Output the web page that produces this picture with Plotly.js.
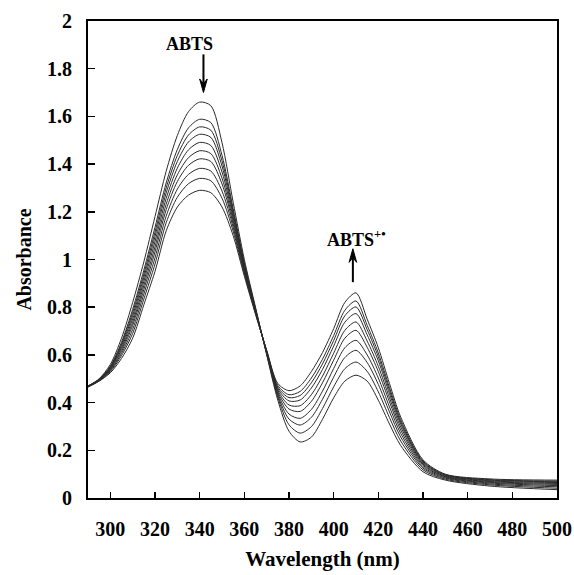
<!DOCTYPE html>
<html>
<head>
<meta charset="utf-8">
<script src="https://cdn.plot.ly/plotly-3.0.1.min.js"></script>
<style>html,body{margin:0;padding:0;background:#fff;}#chart{width:574px;height:575px;}</style>
</head>
<body>
<div id="chart"></div>
<script>
// Wavelength grid (nm)
const wavelength = [290,295,300,305,310,315,320,325,330,335,340,345,350,355,360,365,370,375,380,385,390,395,400,405,410,415,420,425,430,440,450,470,500];

// Absorbance spectra, one per scan (ABTS decreasing, ABTS radical cation increasing)
const scan1  = [0.470,0.500,0.560,0.670,0.820,0.990,1.180,1.370,1.520,1.620,1.660,1.645,1.490,1.240,1.000,0.800,0.600,0.410,0.280,0.235,0.255,0.330,0.420,0.490,0.515,0.490,0.410,0.310,0.220,0.110,0.075,0.050,0.035];
const scan2  = [0.469,0.498,0.553,0.653,0.791,0.955,1.135,1.321,1.461,1.552,1.588,1.574,1.437,1.213,0.986,0.794,0.604,0.422,0.307,0.272,0.299,0.375,0.466,0.542,0.570,0.531,0.445,0.337,0.239,0.118,0.079,0.055,0.041];
const scan3  = [0.469,0.497,0.550,0.646,0.778,0.939,1.115,1.300,1.436,1.522,1.556,1.542,1.414,1.201,0.980,0.792,0.606,0.430,0.331,0.306,0.338,0.414,0.507,0.589,0.619,0.568,0.476,0.361,0.256,0.125,0.083,0.059,0.047];
const scan4  = [0.468,0.496,0.547,0.639,0.765,0.924,1.096,1.279,1.411,1.493,1.525,1.512,1.392,1.189,0.975,0.789,0.608,0.438,0.352,0.334,0.371,0.448,0.543,0.630,0.661,0.600,0.503,0.382,0.271,0.131,0.086,0.063,0.052];
const scan5  = [0.468,0.495,0.544,0.631,0.751,0.908,1.075,1.256,1.383,1.460,1.491,1.478,1.367,1.176,0.968,0.786,0.610,0.445,0.373,0.363,0.405,0.483,0.578,0.670,0.703,0.632,0.530,0.403,0.285,0.137,0.089,0.066,0.057];
const scan6  = [0.467,0.494,0.541,0.623,0.737,0.891,1.053,1.232,1.355,1.427,1.456,1.444,1.341,1.163,0.961,0.783,0.612,0.452,0.390,0.387,0.433,0.511,0.607,0.703,0.738,0.658,0.552,0.420,0.298,0.142,0.091,0.069,0.061];
const scan7  = [0.467,0.494,0.538,0.615,0.724,0.874,1.032,1.209,1.327,1.395,1.422,1.411,1.317,1.150,0.955,0.781,0.614,0.459,0.407,0.411,0.461,0.539,0.637,0.737,0.773,0.684,0.575,0.437,0.310,0.147,0.094,0.072,0.065];
const scan8  = [0.466,0.493,0.534,0.606,0.707,0.855,1.007,1.182,1.295,1.357,1.382,1.371,1.287,1.135,0.947,0.777,0.616,0.465,0.421,0.430,0.483,0.562,0.660,0.764,0.801,0.706,0.592,0.451,0.319,0.151,0.096,0.075,0.068];
const scan9  = [0.466,0.491,0.530,0.597,0.690,0.834,0.981,1.154,1.261,1.318,1.340,1.330,1.257,1.119,0.940,0.774,0.618,0.472,0.433,0.447,0.503,0.582,0.681,0.787,0.826,0.724,0.608,0.463,0.328,0.155,0.098,0.077,0.071];
const scan10 = [0.465,0.490,0.525,0.585,0.670,0.810,0.950,1.120,1.220,1.270,1.290,1.280,1.220,1.100,0.930,0.770,0.620,0.480,0.450,0.470,0.530,0.610,0.710,0.820,0.860,0.750,0.630,0.480,0.340,0.160,0.100,0.080,0.075];

const scans = [scan1,scan2,scan3,scan4,scan5,scan6,scan7,scan8,scan9,scan10];

const xTicks = [300,320,340,360,380,400,420,440,460,480,500];
const yTicks = [0,0.2,0.4,0.6,0.8,1,1.2,1.4,1.6,1.8,2];

// Annotation labels and arrow anchors (wavelength, absorbance)
const labelABTS = {text: 'ABTS', x: 335.6, y: 1.905, arrowX: 341.7, arrowFrom: 1.86, arrowTo: 1.70};
const labelRad  = {text: 'ABTS<sup>+•</sup>', x: 410, y: 1.09, arrowX: 408.6, arrowFrom: 0.905, arrowTo: 1.045};

const serif = 'Liberation Serif, Times New Roman, serif';

const traces = scans.map(s => ({
  x: wavelength, y: s, type: 'scatter', mode: 'lines',
  line: {color: '#2a2a2a', width: 1, shape: 'spline', smoothing: 0.8},
  hoverinfo: 'skip'
}));

function arrowShapes(a) {
  const dir = a.arrowTo > a.arrowFrom ? 1 : -1;
  const headLen = 0.045, halfW = 1.7;
  const base = a.arrowTo - dir * headLen;
  return [
    {type: 'line', xref: 'x', yref: 'y', x0: a.arrowX, x1: a.arrowX, y0: a.arrowFrom, y1: base + dir * 0.01,
     line: {color: '#000', width: 2}},
    {type: 'path', xref: 'x', yref: 'y',
     path: `M ${a.arrowX} ${a.arrowTo} L ${a.arrowX - halfW} ${base - dir*0.012} L ${a.arrowX} ${base + dir*0.008} L ${a.arrowX + halfW} ${base - dir*0.012} Z`,
     fillcolor: '#000', line: {color: '#000', width: 1}}
  ];
}

const layout = {
  width: 574, height: 575,
  margin: {l: 88, r: 17, t: 21, b: 77},
  paper_bgcolor: '#fff', plot_bgcolor: '#fff',
  showlegend: false,
  xaxis: {
    range: [290, 500], tickvals: xTicks, ticktext: xTicks.map(String),
    ticks: 'inside', ticklen: 6, tickwidth: 1.5, tickcolor: '#000',
    showline: true, linecolor: '#000', linewidth: 2, mirror: true,
    showgrid: false, zeroline: false,
    tickfont: {family: serif, size: 20, color: '#000', weight: 'bold'},
    ticklabelstandoff: 12,
    title: {text: 'Wavelength (nm)', font: {family: serif, size: 21, color: '#000', weight: 'bold'}, standoff: 12}
  },
  yaxis: {
    range: [0, 2], tickvals: yTicks, ticktext: yTicks.map(String),
    ticks: 'inside', ticklen: 7, tickwidth: 1.5, tickcolor: '#000',
    showline: true, linecolor: '#000', linewidth: 2, mirror: true,
    showgrid: false, zeroline: false,
    tickfont: {family: serif, size: 20, color: '#000', weight: 'bold'},
    ticklabelstandoff: 10,
    title: {text: 'Absorbance', font: {family: serif, size: 20, color: '#000', weight: 'bold'}, standoff: 10}
  },
  shapes: [...arrowShapes(labelABTS), ...arrowShapes(labelRad)],
  annotations: [labelABTS, labelRad].map(a => ({
    x: a.x, y: a.y, xref: 'x', yref: 'y', text: a.text, showarrow: false,
    font: {family: serif, size: 18, color: '#000', weight: 'bold'}
  }))
};

Plotly.newPlot('chart', traces, layout, {staticPlot: true, displayModeBar: false});
</script>
</body>
</html>
